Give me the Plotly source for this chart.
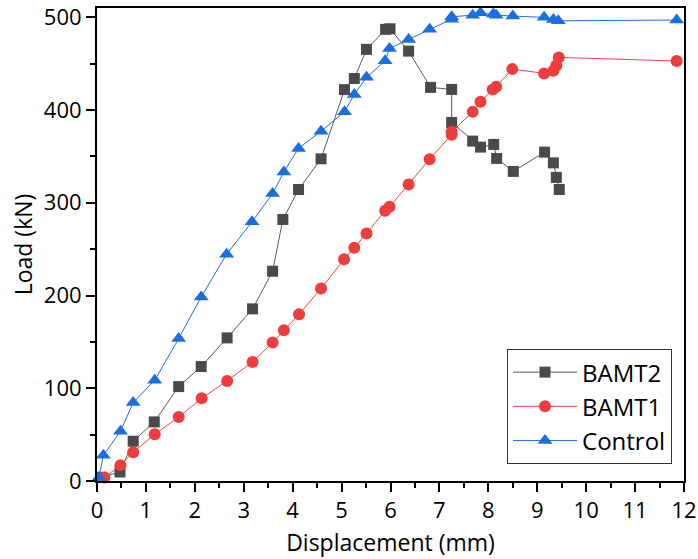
import plotly.graph_objects as go

bamt2_x = [0.08, 0.47, 0.74, 1.17, 1.67, 2.13, 2.66, 3.18, 3.59, 3.80, 4.12, 4.58, 5.06, 5.26,
           5.51, 5.90, 5.99, 6.37, 6.82, 7.25, 7.25, 7.68, 7.84, 8.11, 8.17, 8.51, 9.15, 9.33, 9.39, 9.45]
bamt2_y = [4, 9.7, 42.9, 63.7, 101.8, 123.4, 154.3, 185.6, 226.2, 282, 314.3, 347.4, 422, 434,
           465.4, 487, 487.6, 463.5, 424.4, 422.2, 386.6, 366.5, 360, 362.9, 347.8, 333.8, 354.6, 343, 327.3, 314.3]

bamt1_x = [0.15, 0.48, 0.74, 1.18, 1.67, 2.14, 2.66, 3.18, 3.59, 3.82, 4.13, 4.58, 5.05, 5.26, 5.51,
           5.89, 5.98, 6.37, 6.80, 7.25, 7.25, 7.68, 7.84, 8.09, 8.16, 8.49, 9.14, 9.33, 9.39, 9.44, 11.85]
bamt1_y = [3.7, 16.9, 31, 50.4, 69, 89.2, 107.9, 128.4, 149.3, 162.6, 179.8, 207.5, 239, 251.4, 266.9,
           291.3, 295.6, 319.7, 347, 373.3, 376.5, 398, 408.9, 422.2, 425, 444.1, 439.5, 442.3, 448, 456.7, 452.8]

control_x = [0.04, 0.13, 0.48, 0.74, 1.18, 1.67, 2.13, 2.65, 3.17, 3.59, 3.82, 4.12, 4.58, 5.06, 5.26,
             5.51, 5.89, 5.98, 6.37, 6.80, 7.25, 7.25, 7.68, 7.84, 8.10, 8.16, 8.50, 9.14, 9.33, 9.43, 11.85]
control_y = [3.7, 27.7, 53.6, 84.6, 108.6, 153.6, 198.5, 244.6, 279.4, 310, 333.3, 358.6, 377.2, 398, 416.8,
             435.2, 453, 466.4, 476.1, 487, 498, 500.5, 502.3, 504.8, 503.4, 502.3, 501.3, 499.9, 497.7, 496.2, 497]

FONT = "Open Sans"
FS = 22

fig = go.Figure()
fig.add_trace(go.Scatter(x=bamt2_x, y=bamt2_y, name="BAMT2", mode="lines+markers",
                         line=dict(color="#5a5a5a", width=1),
                         marker=dict(symbol="square", size=11, color="#4a4a4a"),
                         cliponaxis=False))
fig.add_trace(go.Scatter(x=bamt1_x, y=bamt1_y, name="BAMT1", mode="lines+markers",
                         line=dict(color="#f04545", width=1),
                         marker=dict(symbol="circle", size=12, color="#ef3c3c"),
                         cliponaxis=False))
fig.add_trace(go.Scatter(x=control_x, y=control_y, name="Control", mode="lines+markers",
                         line=dict(color="#1f6fe0", width=1),
                         marker=dict(symbol="triangle-up", size=13, color="#1a6ee0"),
                         cliponaxis=False))

axis_common = dict(showline=True, linecolor="black", linewidth=2, mirror=True,
                   ticks="outside", ticklen=9, tickwidth=2, tickcolor="black",
                   showgrid=False, zeroline=False, automargin=False,
                   tickfont=dict(family=FONT, size=FS, color="black"))

fig.update_xaxes(range=[0, 12], dtick=1, tick0=0,
                 minor=dict(ticks="outside", ticklen=5, tickwidth=1.5, tickcolor="black", dtick=0.5),
                 title=dict(text="Displacement (mm)", font=dict(family=FONT, size=23, color="black"), standoff=11),
                 **axis_common)
fig.update_yaxes(range=[0, 510], dtick=100, tick0=0,
                 minor=dict(ticks="outside", ticklen=5, tickwidth=1.5, tickcolor="black", dtick=50),
                 title=dict(text="Load (kN)", font=dict(family=FONT, size=23, color="black"), standoff=5),
                 **axis_common)

fig.update_layout(
    width=698, height=559,
    margin=dict(l=97, r=14, t=8, b=78),
    plot_bgcolor="white", paper_bgcolor="white",
    font=dict(family=FONT, size=FS, color="black"),
    legend=dict(x=0.6985, y=0.279, xanchor="left", yanchor="top",
                bordercolor="#333333", borderwidth=1, bgcolor="white",
                font=dict(family=FONT, size=24, color="black"),
                itemwidth=64, tracegroupgap=0),
    showlegend=True,
)

fig.write_html("out.html")
